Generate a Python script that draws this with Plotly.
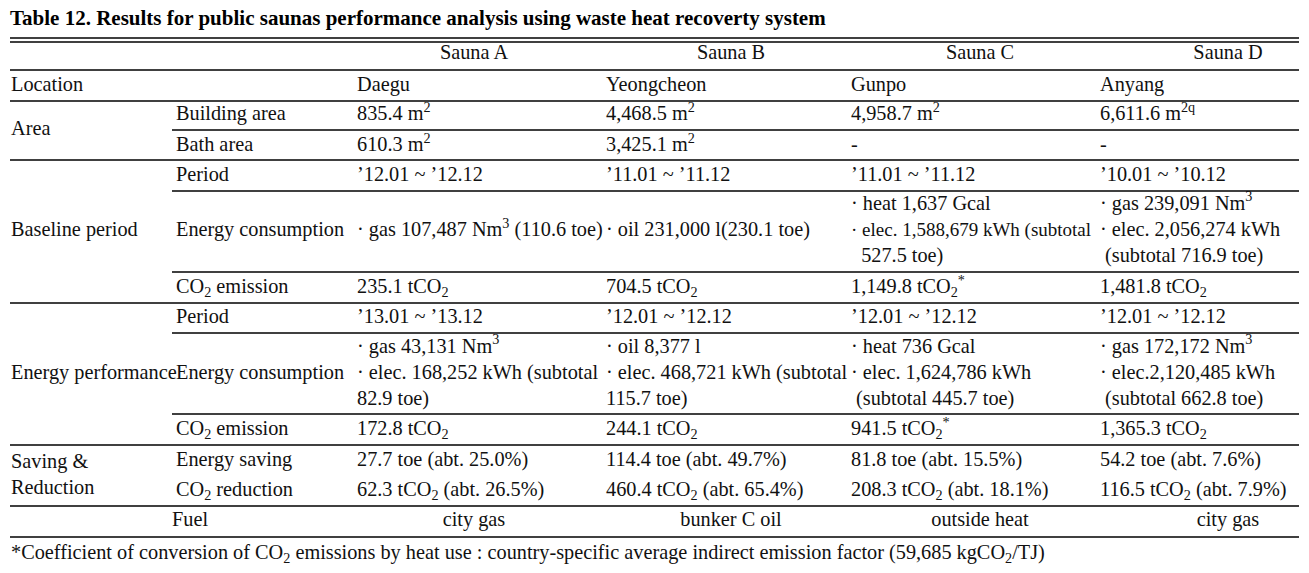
import plotly.graph_objects as go

# ---------------- data ----------------
title = "Table 12. Results for public saunas performance analysis using waste heat recoverty system"
saunas = ["Sauna A", "Sauna B", "Sauna C", "Sauna D"]
locations = ["Daegu", "Yeongcheon", "Gunpo", "Anyang"]
building_area = ["835.4 m<sup>2</sup>", "4,468.5 m<sup>2</sup>", "4,958.7 m<sup>2</sup>", "6,611.6 m<sup>2q</sup>"]
bath_area = ["610.3 m<sup>2</sup>", "3,425.1 m<sup>2</sup>", "-", "-"]
base_period = ["\u201912.01 ~ \u201912.12", "\u201911.01 ~ \u201911.12", "\u201911.01 ~ \u201911.12", "\u201910.01 ~ \u201910.12"]
base_energy = [
    "\u00b7 gas 107,487 Nm<sup>3</sup> (110.6 toe)",
    "\u00b7 oil 231,000 l(230.1 toe)",
    "\u00b7 heat 1,637 Gcal<br><span style='font-size:19px'>\u00b7 elec. 1,588,679 kWh (subtotal</span><br>\u00a0\u00a0527.5 toe)",
    "\u00b7 gas 239,091 Nm<sup>3</sup><br>\u00b7 elec. 2,056,274 kWh<br>\u00a0(subtotal 716.9 toe)",
]
base_co2 = ["235.1 tCO<sub>2</sub>", "704.5 tCO<sub>2</sub>", "1,149.8 tCO<sub>2</sub><sup>*</sup>", "1,481.8 tCO<sub>2</sub>"]
perf_period = ["\u201913.01 ~ \u201913.12", "\u201912.01 ~ \u201912.12", "\u201912.01 ~ \u201912.12", "\u201912.01 ~ \u201912.12"]
perf_energy = [
    "\u00b7 gas 43,131 Nm<sup>3</sup><br>\u00b7 elec. 168,252 kWh (subtotal<br>82.9 toe)",
    "\u00b7 oil 8,377 l<br>\u00b7 elec. 468,721 kWh (subtotal<br>115.7 toe)",
    "\u00b7 heat 736 Gcal<br>\u00b7 elec. 1,624,786 kWh<br>\u00a0(subtotal 445.7 toe)",
    "\u00b7 gas 172,172 Nm<sup>3</sup><br>\u00b7 elec.2,120,485 kWh<br>\u00a0(subtotal 662.8 toe)",
]
perf_co2 = ["172.8 tCO<sub>2</sub>", "244.1 tCO<sub>2</sub>", "941.5 tCO<sub>2</sub><sup>*</sup>", "1,365.3 tCO<sub>2</sub>"]
energy_saving = ["27.7 toe (abt. 25.0%)", "114.4 toe (abt. 49.7%)", "81.8 toe (abt. 15.5%)", "54.2 toe (abt. 7.6%)"]
co2_reduction = [
    "62.3 tCO<sub>2</sub> (abt. 26.5%)",
    "460.4 tCO<sub>2</sub> (abt. 65.4%)",
    "208.3 tCO<sub>2</sub> (abt. 18.1%)",
    "116.5 tCO<sub>2</sub> (abt. 7.9%)",
]
fuel = ["city gas", "bunker C oil", "outside heat", "city gas"]
group_labels = ["Location", "Area", "Baseline period", "Energy performance", "Saving &<br>Reduction"]
sub_labels = ["Building area", "Bath area", "Period", "Energy consumption", "CO<sub>2</sub> emission",
              "Period", "Energy consumption", "CO<sub>2</sub> emission", "Energy saving", "CO<sub>2</sub> reduction"]
fuel_label = "Fuel"
footnote = ("*Coefficient of conversion of CO<sub>2</sub> emissions by heat use : country-specific average "
            "indirect emission factor (59,685 kgCO<sub>2</sub>/TJ)")

# ---------------- layout geometry ----------------
W, H = 1309, 573
FONT = "Liberation Serif"
FS = 20.3
col_group_x = 11
col_sub_x = 176
col_val_x = [357, 606, 851, 1100]
col_center_x = [474, 731, 980, 1228]
fuel_label_x = 190
header_y = 54
location_y = 86
group_y = [86, 130, 231, 374, 476]
sub_y = [115, 146, 176, 231, 288, 318, 374, 430, 461, 491]
fuel_y = 521
footnote_y = 554
title_y = 20
value_rows = [building_area, bath_area, base_period, base_energy, base_co2,
              perf_period, perf_energy, perf_co2, energy_saving, co2_reduction]
full_lines = [70, 101, 160, 303, 445, 506, 537]
part_lines = [130, 191, 272, 333, 414]
double_lines = [38, 42]
x_left, x_part, x_right = 10, 172, 1299

# ---------------- build text lists ----------------
left_x, left_y, left_t = [], [], []
cen_x, cen_y, cen_t = [], [], []

for lab, y in zip(group_labels, group_y):
    left_x.append(col_group_x); left_y.append(y); left_t.append(lab)
for lab, y in zip(sub_labels, sub_y):
    left_x.append(col_sub_x); left_y.append(y); left_t.append(lab)
for i, x in enumerate(col_val_x):
    left_x.append(x); left_y.append(location_y); left_t.append(locations[i])
    for row, y in zip(value_rows, sub_y):
        left_x.append(x); left_y.append(y); left_t.append(row[i])
left_x.append(col_group_x); left_y.append(footnote_y); left_t.append(footnote)

for i, x in enumerate(col_center_x):
    cen_x.append(x); cen_y.append(header_y); cen_t.append(saunas[i])
    cen_x.append(x); cen_y.append(fuel_y); cen_t.append(fuel[i])
cen_x.append(fuel_label_x); cen_y.append(fuel_y); cen_t.append(fuel_label)

fig = go.Figure()
fig.add_trace(go.Scatter(x=left_x, y=left_y, text=left_t, mode="text",
                         textposition="middle right",
                         textfont=dict(family=FONT, size=FS, color="#111111"),
                         hoverinfo="skip", showlegend=False))
fig.add_trace(go.Scatter(x=cen_x, y=cen_y, text=cen_t, mode="text",
                         textposition="middle center",
                         textfont=dict(family=FONT, size=FS, color="#111111"),
                         hoverinfo="skip", showlegend=False))
fig.add_trace(go.Scatter(x=[col_group_x - 1], y=[title_y], text=["<b>" + title + "</b>"], mode="text",
                         textposition="middle right",
                         textfont=dict(family=FONT, size=21, color="#000000"),
                         hoverinfo="skip", showlegend=False))

shapes = []
for y in full_lines + double_lines:
    shapes.append(dict(type="line", xref="x", yref="y", x0=x_left, x1=x_right, y0=y, y1=y,
                       line=dict(color="#000000", width=1.6)))
for y in part_lines:
    shapes.append(dict(type="line", xref="x", yref="y", x0=x_part, x1=x_right, y0=y, y1=y,
                       line=dict(color="#000000", width=1.6)))

fig.update_layout(
    width=W, height=H,
    margin=dict(l=0, r=0, t=0, b=0),
    paper_bgcolor="white", plot_bgcolor="white",
    xaxis=dict(range=[0, W], visible=False, fixedrange=True),
    yaxis=dict(range=[H, 0], visible=False, fixedrange=True),
    shapes=shapes,
    showlegend=False,
)
fig.write_html("out.html", config={"displayModeBar": False},
               post_script="document.body.style.margin='0';document.body.style.padding='0';")
